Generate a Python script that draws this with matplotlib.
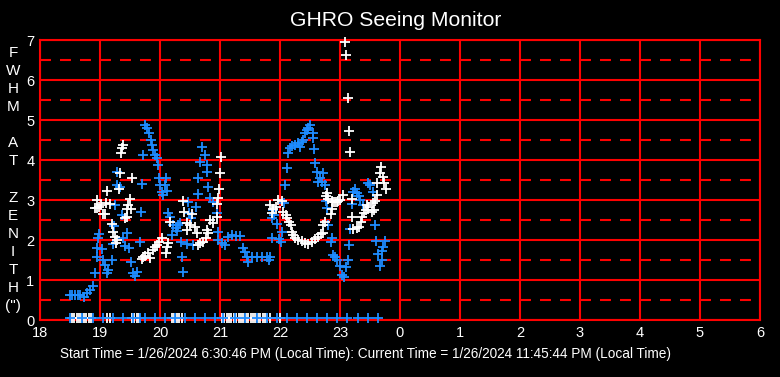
import matplotlib
matplotlib.use("Agg")
import matplotlib.pyplot as plt

# ---------------- data ----------------
blue_t = [18.50, 18.53, 18.58, 18.63, 18.67, 18.73, 18.78, 18.83, 18.88, 18.92, 18.95, 18.95, 18.97, 18.98,
          19.03, 19.05, 19.08, 19.12, 19.13, 19.20, 19.22, 19.23, 19.25, 19.28, 19.28, 19.33, 19.37, 19.38,
          19.42, 19.45, 19.48, 19.52, 19.55, 19.58, 19.62, 19.67, 19.68, 19.70, 19.72, 19.75, 19.78, 19.82,
          19.85, 19.87, 19.88, 19.92, 19.95, 19.97, 19.98, 20.00, 20.03, 20.05, 20.08, 20.10, 20.12, 20.13,
          20.17, 20.20, 20.22, 20.27, 20.28, 20.30, 20.33, 20.35, 20.37, 20.38, 20.45, 20.47, 20.48, 20.52,
          20.55, 20.60, 20.63, 20.63, 20.67, 20.70, 20.75, 20.78, 20.78, 20.80, 20.83, 20.88, 20.95, 20.97,
          20.97, 21.03, 21.08, 21.13, 21.20, 21.27, 21.33, 21.38, 21.42, 21.45, 21.47, 21.53, 21.62, 21.70,
          21.78, 21.83, 21.82, 21.87, 21.87, 21.88, 21.90, 21.95, 21.98, 22.02, 22.03, 22.07, 22.08, 22.12,
          22.13, 22.17, 22.20, 22.25, 22.30, 22.33, 22.37, 22.38, 22.42, 22.45, 22.47, 22.50, 22.55, 22.55,
          22.57, 22.58, 22.62, 22.63, 22.67, 22.70, 22.72, 22.75, 22.77, 22.78, 22.80, 22.85, 22.87, 22.88,
          22.92, 22.95, 23.00, 23.03, 23.07, 23.10, 23.13, 23.15, 23.17, 23.20, 23.22, 23.25, 23.28, 23.32,
          23.33, 23.38, 23.47, 23.50, 23.55, 23.58, 23.60, 23.63, 23.67, 23.70, 23.70, 23.72, 23.75]
blue_fwhm = [0.62, 0.62, 0.62, 0.62, 0.62, 0.57, 0.68, 0.75, 0.85, 1.18, 1.58, 1.80, 2.05, 2.15,
             1.78, 1.50, 1.38, 1.18, 1.25, 1.50, 1.90, 2.35, 2.88, 3.70, 3.38, 3.33, 2.63, 2.05,
             1.85, 2.18, 1.80, 1.45, 1.18, 1.10, 1.20, 1.95, 2.70, 3.40, 4.13, 4.88, 4.80, 4.68,
             4.50, 4.38, 4.25, 4.13, 4.05, 3.88, 3.55, 3.38, 3.20, 3.13, 3.38, 3.55, 3.23, 2.68,
             2.58, 2.13, 2.38, 2.30, 2.23, 2.38, 2.43, 1.95, 1.58, 1.20, 1.90, 2.95, 2.68, 2.55,
             1.88, 2.83, 3.55, 3.15, 3.95, 4.33, 4.13, 3.88, 3.70, 3.33, 3.05, 2.95, 2.68, 2.20,
             2.00, 1.93, 1.88, 2.08, 2.13, 2.10, 2.10, 1.80, 1.70, 1.58, 1.45, 1.58, 1.58, 1.58,
             1.58, 1.58, 1.50, 2.05, 2.55, 2.75, 2.63, 2.40, 2.03, 1.95, 2.20, 2.93, 3.38, 3.80,
             4.18, 4.30, 4.35, 4.38, 4.43, 4.33, 4.45, 4.50, 4.68, 4.75, 4.80, 4.88, 4.68, 4.55,
             4.28, 3.93, 3.70, 3.45, 3.55, 3.45, 3.68, 3.38, 2.98, 2.80, 2.38, 1.95, 2.05, 1.63,
             1.58, 1.50, 1.35, 1.13, 1.08, 1.33, 1.50, 1.88, 2.28, 2.90, 3.20, 3.28, 3.18, 3.10,
             3.00, 2.88, 3.43, 3.38, 3.20, 2.38, 1.98, 1.65, 1.35, 1.50, 1.73, 1.83, 1.98]

white_t = [19.37, 19.38, 19.35, 19.33, 19.53, 19.12, 19.32, 18.95, 18.92, 18.95, 18.98, 19.02, 19.10, 19.17,
           19.50, 19.47, 19.45, 19.52, 19.05, 19.08, 19.45, 19.42, 19.20, 19.22, 19.25, 19.28, 19.27,
           19.70, 19.72, 19.75, 19.80, 19.83, 19.88, 19.92, 19.95, 19.98, 20.03, 20.10, 20.12, 20.13, 20.17,
           20.38, 20.40, 20.45, 20.45, 20.50, 20.53, 20.58, 20.62, 20.63, 20.67, 20.72, 20.77, 20.78, 20.80,
           20.83, 20.88, 20.95, 20.95, 20.97, 20.98, 21.00, 21.02,
           21.83, 21.87, 21.88, 21.93, 21.97, 22.03, 22.05, 22.10, 22.12, 22.15, 22.18, 22.20, 22.22, 22.25,
           22.30, 22.37, 22.42, 22.47, 22.53, 22.58, 22.63, 22.68, 22.72, 22.72, 22.75, 22.78, 22.77, 22.80,
           22.87, 22.92, 22.97, 22.85, 22.87, 22.88, 22.95, 23.00, 23.05, 23.08, 23.10, 23.13, 23.15, 23.17,
           23.20, 23.20, 23.22, 23.28, 23.32, 23.35, 23.37, 23.40, 23.43, 23.45, 23.47, 23.53, 23.55, 23.57,
           23.58, 23.62, 23.62, 23.67, 23.68, 23.72, 23.73, 23.77]
white_fwhm = [4.30, 4.38, 4.18, 3.68, 3.55, 3.23, 3.28, 3.00, 2.80, 2.80, 2.83, 2.88, 2.93, 2.90,
              3.03, 2.88, 2.78, 2.78, 2.65, 2.65, 2.58, 2.55, 2.40, 2.20, 2.08, 2.00, 1.93,
              1.53, 1.58, 1.60, 1.68, 1.55, 1.75, 1.83, 1.88, 1.95, 2.05, 1.68, 1.83, 1.93, 2.45,
              2.98, 2.70, 2.43, 2.25, 2.38, 2.65, 2.33, 2.18, 1.88, 1.93, 1.95, 2.05, 2.25, 2.18,
              2.50, 2.43, 2.58, 2.90, 3.05, 3.28, 3.68, 4.08,
              2.88, 2.68, 2.78, 2.83, 3.00, 2.98, 2.70, 2.63, 2.55, 2.45, 2.38, 2.20, 2.13, 2.05,
              2.00, 1.98, 1.93, 1.90, 1.95, 2.03, 2.08, 2.15, 2.18, 2.38, 2.45, 3.18, 3.10, 3.03,
              2.98, 2.95, 2.98, 2.65, 2.78, 2.95, 2.95, 3.00, 3.13, 6.95, 6.63, 5.55, 4.73, 4.20,
              3.03, 2.58, 2.28, 2.30, 2.33, 2.45, 2.58, 2.68, 2.75, 2.88, 2.83, 2.70, 2.93, 2.75,
              2.98, 3.13, 3.43, 3.68, 3.83, 3.58, 3.43, 3.28]

# zero / failed readings shown along the bottom
blue_zero_t = [18.50, 18.70, 18.88, 19.05, 19.22, 19.38, 19.55, 19.67, 19.75, 19.92, 20.08, 20.25, 20.42,
               20.58, 20.75, 20.92, 21.05, 21.25, 21.42, 21.62, 21.78, 21.95, 22.12, 22.28, 22.45, 22.62,
               22.78, 22.95, 23.12, 23.30, 23.47, 23.63]
white_zero_t = [18.53, 18.57, 18.61, 18.65, 18.69, 18.73, 18.77, 18.81, 18.85, 19.12, 19.16,
                19.53, 19.57, 19.61, 19.65, 20.20, 20.24, 20.28, 20.32, 20.36,
                21.03, 21.07, 21.11, 21.15, 21.19, 21.23, 21.27, 21.31, 21.35, 21.39, 21.43, 21.47,
                21.51, 21.55, 21.59, 21.63, 21.67, 21.71, 21.75, 21.79, 21.83, 22.00]
zero_level = 0.05

x_ticks = [18, 19, 20, 21, 22, 23, 24, 25, 26, 27, 28, 29, 30]
x_tick_labels = ["18", "19", "20", "21", "22", "23", "0", "1", "2", "3", "4", "5", "6"]
y_ticks = [0, 1, 2, 3, 4, 5, 6, 7]

title = "GHRO Seeing Monitor"
ylabel_letters = ["F", "W", "H", "M", "", "A", "T", "", "Z", "E", "N", "I", "T", "H", "(\")"]
footer = "Start Time = 1/26/2024 6:30:46 PM (Local Time): Current Time = 1/26/2024 11:45:44 PM (Local Time)"

# ---------------- figure ----------------
plt.rcParams['font.family'] = ['Liberation Sans', 'DejaVu Sans']
plt.rcParams['lines.scale_dashes'] = False

W, H = 780, 377
fig = plt.figure(figsize=(W / 100, H / 100), dpi=100, facecolor="black")
ax = fig.add_axes([40 / W, (H - 320) / H, 720 / W, 280 / H], facecolor="black")

red = "#ff0000"
blue = "#1e8cff"

for y in y_ticks:
    ax.axhline(y, color=red, lw=1.5, zorder=1)
for y in [v + 0.5 for v in y_ticks[:-1]]:
    ax.axhline(y, color=red, lw=1.5, ls=(0, (7.9, 6.5)), zorder=1)
for x in x_ticks:
    ax.axvline(x, color=red, lw=1.5, zorder=1)

mk = dict(marker="+", ls="none", ms=6.5, mew=1.3, clip_on=False, zorder=3)
ax.plot(blue_t, blue_fwhm, color=blue, **mk)
ax.plot(white_t, white_fwhm, color="white", **mk)
ax.plot(white_zero_t, [zero_level] * len(white_zero_t), color="white", **mk)
ax.plot(blue_zero_t, [zero_level] * len(blue_zero_t), color=blue, **mk)

ax.set_xlim(18, 30)
ax.set_ylim(0, 7)
ax.set_xticks(x_ticks)
ax.set_xticklabels(x_tick_labels)
ax.set_yticks(y_ticks)
ax.tick_params(colors="white", labelsize=10.5, length=0, pad=4)
for s in ax.spines.values():
    s.set_color(red)
    s.set_linewidth(1.5)

fig.text(396 / W, 1 - 20 / H, title, color="white", fontsize=15.2, ha="center", va="center")

y0 = 53
for i, ch in enumerate(ylabel_letters):
    if ch:
        fig.text(13 / W, 1 - (y0 + i * 18.07) / H, ch, color="white", fontsize=11,
                 ha="center", va="center")

fig.text(366 / W, 1 - 354 / H, footer, color="white", fontsize=9.8, ha="center", va="center")

fig.savefig("out.png", dpi=100, facecolor="black")
